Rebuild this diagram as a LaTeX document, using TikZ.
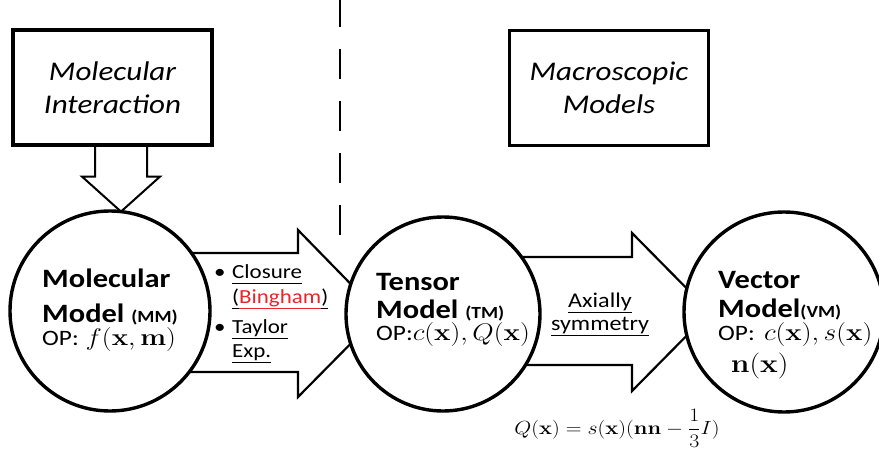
\RequirePackage{fix-cm}
\documentclass[tikz,border=0pt]{standalone}
\usepackage{amsmath}
\usepackage{amssymb}
\usepackage[no-math]{fontspec}
\setmainfont{Carlito}
\usepackage{xcolor}
\usetikzlibrary{calc}
\usetikzlibrary{backgrounds}
\definecolor{binghamcolor}{HTML}{E8262B}
\colorlet{linecolor}{black}
\newcommand{\vx}{\mathbf{x}}
\newcommand{\abbr}[1]{{\fontsize{17}{17}\selectfont(#1)}}
\newcommand{\opmath}[1]{{\fontsize{24}{24}\selectfont$#1$}}
\newcommand{\oplabel}[1]{{\mdseries\fontsize{22}{22}\selectfont #1}}
\newcommand{\uln}[1]{\underline{\smash[b]{#1}\vphantom{(}}}% underline at fixed depth
\newcommand{\bul}{\makebox[15.6pt][l]{\textbullet}}
\tikzstyle{modelcircle} = [
    circle,
    draw=linecolor,
    fill=white,
    line width=3.4pt,
    inner sep=0pt
    ]
\tikzstyle{conceptbox} = [
    draw=linecolor,
    rectangle,
    line width=3.2pt,
    xscale=1.15,
    minimum width=173pt,
    minimum height=115pt,
    inner sep=0pt,
    align=center,
    font=\fontsize{27}{33}\selectfont\itshape
    ]
\tikzstyle{modeltext} = [
    xscale=1.15,
    inner sep=0pt,
    anchor=base west,
    align=left,
    font=\fontsize{26.5}{37}\selectfont\bfseries
    ]
\tikzstyle{arrowtext} = [
    xscale=1.15,
    inner sep=0pt,
    anchor=base west,
    align=left,
    font=\fontsize{20}{25}\selectfont
    ]
\tikzstyle{bigarrow} = [draw=linecolor, fill=white, line width=2.2pt, line join=miter]
\tikzstyle{smallarrow} = [draw=linecolor, fill=white, line width=2pt, line join=miter]
\tikzstyle{divider} = [draw=linecolor, line width=2.5pt, dash pattern=on 30pt off 22pt, dash phase=3pt]

\begin{document}
\begin{tikzpicture}[x=1pt, y=1pt]
\useasboundingbox (0,0) rectangle (879,-452);

\node[conceptbox] (inter) at (112.5,-87.5) {Molecular\\Interaction};
\node[conceptbox] (macro) at (609,-88) {Macroscopic\\Models};

\coordinate (divtop) at (340,0);
\coordinate (divbot) at (340,-235);
\draw[divider] (divtop) -- (divbot);

\node[modelcircle, minimum size=200pt] (mm) at (110,-311) {};
\node[modelcircle, minimum size=194pt] (tm) at (443,-314) {};
\node[modelcircle, minimum size=200pt] (vm) at (784,-312) {};

% base anchor sits on the last line
\node[modeltext] (mmtext) at (42,-345) {Molecular\\[-2pt]
    Model \abbr{MM}\\[-14pt]
    \oplabel{OP:\hspace{6pt}\opmath{f(\vx,\mathbf{m})}}};
\node[modeltext] (tmtext) at (376,-340) {Tensor\\[-9pt]
    Model \abbr{TM}\\[-15pt]
    \oplabel{OP:\opmath{c(\vx),Q(\vx)}}};
\node[modeltext] (vmtext) at (718,-372) {Vector\\[-8pt]
    Model\abbr{VM}\\[-14pt]
    \oplabel{OP:\hspace{8pt}\opmath{c(\vx),s(\vx)}}\\[-5pt]
    \hspace*{11pt}{\fontsize{26}{26}\selectfont$\mathbf{n}(\vx)$}};

\node[arrowtext] (closure) at (214,-357) {\bul\uln{Closure}\\
    \hspace*{15.6pt}\uln{(}\textcolor{binghamcolor}{\uln{Bingham}}\uln{)}\\[5pt]
    \bul\uln{Taylor}\\[-1pt]
    \hspace*{15.6pt}\uln{Exp.}};
\node[arrowtext, anchor=base, align=center, font=\fontsize{21}{25}\selectfont] (axial) at (600,-330) {\uln{Axially}\\[-2pt]
    \uln{symmetry}};

\node[xscale=1.15, inner sep=0pt, anchor=base, font=\fontsize{19}{19}\selectfont] (relation) at (617,-434)
    {$\displaystyle Q(\vx)=s(\vx)(\mathbf{nn}-\frac{1}{3}I)$};

\begin{pgfonlayer}{background}
\draw[smallarrow] ($(inter.south)+(-17.5,0)$) -- ++(0,-30) -- ++(-13,0)
    -- ($(inter.south)+(8.5,-65)$) -- ++(39,35) -- ++(-13,0) -- ++(0,30);
\draw[bigarrow] ($(mm.center |- tm.center)+(0,61)$) -- ++(188,0) -- ++(0,23)
    -- ($(tm.center)+(-63,0)$) -- ++(-82,-83) -- ++(0,25)
    -- ($(mm.center |- tm.center)+(0,-58)$) -- cycle;
\draw[bigarrow] ($(tm.center |- vm.center)+(0,55)$) -- ++(189,0) -- ++(0,24)
    -- ($(vm.center)+(-74,0)$) -- ++(-78,-79) -- ++(0,26)
    -- ($(tm.center |- vm.center)+(0,-53)$) -- cycle;
\end{pgfonlayer}
\end{tikzpicture}
\end{document}
